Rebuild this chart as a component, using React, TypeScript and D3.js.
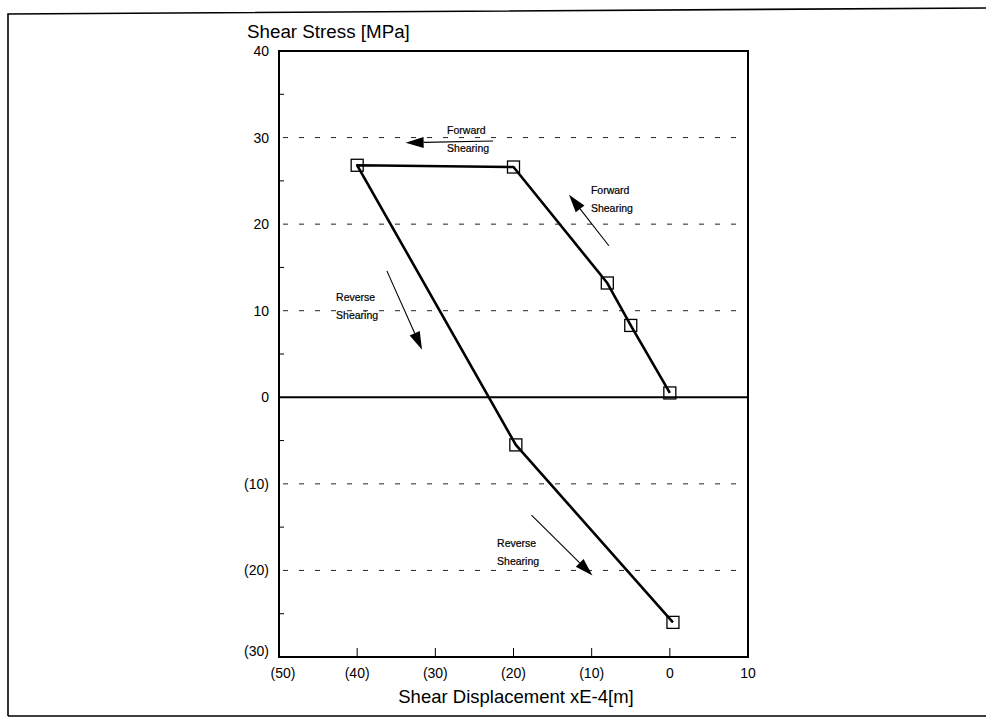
import React from "react";
import * as d3 from "d3";

const dispX = [0, -5, -8, -20, -40, -19.7, 0.4];
const stressY = [0.5, 8.3, 13.2, 26.6, 26.8, -5.5, -26];

const xTicks = [-50, -40, -30, -20, -10, 0, 10];
const yTicks = [-30, -20, -10, 0, 10, 20, 30, 40];
const yMinor = [-25, -15, -5, 5, 15, 25, 35];
const gridY = [-20, -10, 10, 20, 30];

const annLines1 = ["Forward", "Forward", "Reverse", "Reverse"];
const annLines2 = ["Shearing", "Shearing", "Shearing", "Shearing"];
const annX = [-28.5, -10.1, -42.7, -22.1];
const annY = [30.4, 23.5, 11.1, -17.3];

const arrowTailX = [-22.6, -7.8, -36.2, -17.7];
const arrowTailY = [29.6, 17.5, 14.6, -13.6];
const arrowTipX = [-33.8, -12.9, -31.7, -9.9];
const arrowTipY = [29.4, 23.4, 5.5, -20.6];

const fmt = (v: number) => (v < 0 ? `(${Math.abs(v)})` : `${v}`);

export default function App() {
  const W = 986, H = 722;
  const x = d3.scaleLinear().domain([-50, 10]).range([279, 748]);
  const y = d3.scaleLinear().domain([-30, 40]).range([657, 51]);
  const pts = dispX.map((d, i) => [x(d), y(stressY[i])] as [number, number]);
  const line = d3.line().curve(d3.curveLinear)(pts) as string;
  const font = "'Liberation Sans', Arial, sans-serif";
  const [x0, x1] = x.range();
  const [y0, y1] = y.range();

  const arrows = arrowTailX.map((_, i) => {
    const tx = x(arrowTailX[i]), ty = y(arrowTailY[i]);
    const hx = x(arrowTipX[i]), hy = y(arrowTipY[i]);
    const ang = Math.atan2(hy - ty, hx - tx);
    const L = 18, Wd = 5.5;
    const bx = hx - L * Math.cos(ang), by = hy - L * Math.sin(ang);
    const px = -Math.sin(ang) * Wd, py = Math.cos(ang) * Wd;
    return { tx, ty, hx, hy, bx, by, head: `M${hx},${hy}L${bx + px},${by + py}L${bx - px},${by - py}Z` };
  });

  return (
    <svg width={W} height={H} style={{ position: "absolute", left: 0, top: 0, background: "#fff" }}>
      {/* outer border */}
      <path d={`M8,716 L8,14 L990,8 M8,716 L990,716`} fill="none" stroke="#000" strokeWidth={1.6} />

      {/* gridlines */}
      {gridY.map((g) => (
        <line key={g} x1={x0 + 4} x2={x1} y1={y(g)} y2={y(g)} stroke="#222" strokeWidth={1} strokeDasharray="5,11" />
      ))}
      {/* zero line */}
      <line x1={x0} x2={x1} y1={y(0)} y2={y(0)} stroke="#000" strokeWidth={2} />

      {/* frame */}
      <rect x={x0} y={y1} width={x1 - x0} height={y0 - y1} fill="none" stroke="#000" strokeWidth={2} />

      {/* y minor ticks */}
      {yMinor.map((t) => (
        <line key={t} x1={x0} x2={x0 + 5} y1={y(t)} y2={y(t)} stroke="#000" strokeWidth={1} />
      ))}
      {/* x ticks */}
      {xTicks.slice(1, -1).map((t) => (
        <line key={t} x1={x(t)} x2={x(t)} y1={y0} y2={y0 - 9} stroke="#000" strokeWidth={1} />
      ))}

      {/* y tick labels */}
      {yTicks.map((t) => (
        <text key={t} x={x0 - 10} y={y(t) + (t === -30 ? -1 : 5)} textAnchor="end" fontFamily={font} fontSize={14} fill="#000">
          {fmt(t)}
        </text>
      ))}
      {/* x tick labels */}
      {xTicks.map((t) => (
        <text key={t} x={x(t) + (t === -50 ? 4 : 0)} y={y0 + 21} textAnchor="middle" fontFamily={font} fontSize={14} fill="#000">
          {fmt(t)}
        </text>
      ))}

      {/* axis titles */}
      <text x={247} y={38} fontFamily={font} fontSize={18.8} fill="#000">Shear Stress [MPa]</text>
      <text x={516} y={703} textAnchor="middle" fontFamily={font} fontSize={18.5} fill="#000">Shear Displacement xE-4[m]</text>

      {/* data line */}
      <path d={line} fill="none" stroke="#000" strokeWidth={2.6} strokeLinejoin="round" />
      {pts.map((p, i) => (
        <rect key={i} x={p[0] - 6} y={p[1] - 6} width={12} height={12} fill="none" stroke="#000" strokeWidth={1.3} />
      ))}

      {/* arrows */}
      {arrows.map((a, i) => (
        <g key={i}>
          <line x1={a.tx} y1={a.ty} x2={a.bx} y2={a.by} stroke="#000" strokeWidth={1.1} />
          <path d={a.head} fill="#000" />
        </g>
      ))}

      {/* annotations */}
      {annX.map((v, i) => (
        <text key={i} x={x(v)} y={y(annY[i])} fontFamily={font} fontSize={10.5} fill="#000" stroke="#000" strokeWidth={0.2}>
          <tspan x={x(v)}>{annLines1[i]}</tspan>
          <tspan x={x(v)} dy={18}>{annLines2[i]}</tspan>
        </text>
      ))}
    </svg>
  );
}
